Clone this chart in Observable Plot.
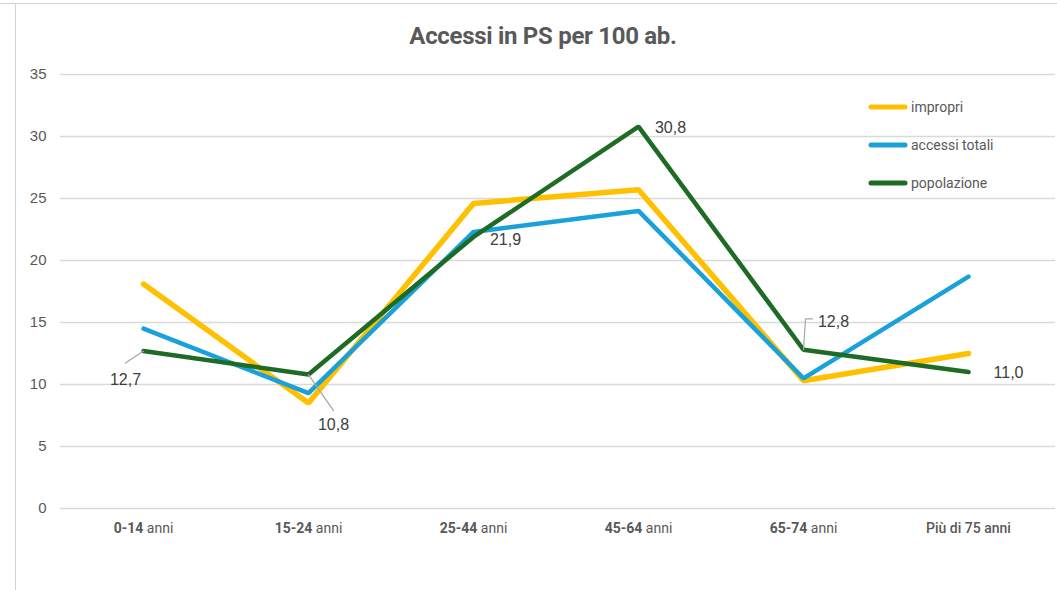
<!DOCTYPE html>
<html><head><meta charset="utf-8">
<script src="https://cdn.jsdelivr.net/npm/d3@7"></script>
<script src="https://cdn.jsdelivr.net/npm/@observablehq/plot@0.6"></script>
<style>
body{margin:0;background:#fff;}
#wrap{position:relative;width:1057px;height:590px;overflow:hidden;font-family:"Liberation Sans",Arial,sans-serif;}
#frameTop{position:absolute;left:0;top:3px;width:1057px;height:0;border-top:1px solid #d4d4d4;}
#frameLeft{position:absolute;left:15px;top:3px;width:0;height:590px;border-left:1px solid #d4d4d4;}
#title{position:absolute;left:0;width:1086px;top:22px;text-align:center;font-family:"Roboto","Liberation Sans",sans-serif;font-weight:bold;font-size:24px;color:#595959;letter-spacing:-0.3px;}
#legend{position:absolute;left:868px;top:88px;font-family:"Roboto","Liberation Sans",sans-serif;font-size:14px;color:#595959;}
#legend .item{display:flex;align-items:center;height:38px;}
#legend svg{margin-right:3px;}
#chart{position:absolute;left:0;top:0;}
</style>
</head><body>
<div id="wrap">
  <div id="chart"></div>
  <div id="frameTop"></div>
  <div id="frameLeft"></div>
  <div id="title"></div>
  <div id="legend"></div>
</div>
<script>
const titleText = "Accessi in PS per 100 ab.";
const categories = ["0-14 anni","15-24 anni","25-44 anni","45-64 anni","65-74 anni","Più di 75 anni"];
const impropri = [18.1, 8.5, 24.6, 25.7, 10.3, 12.5];
const accessiTotali = [14.5, 9.3, 22.3, 24.0, 10.5, 18.7];
const popolazione = [12.7, 10.8, 21.9, 30.8, 12.8, 11.0];
const seriesNames = ["impropri","accessi totali","popolazione"];
const seriesColors = ["#FFC000","#1AA1D9","#1E6B26"];
const yTicks = [0,5,10,15,20,25,30,35];

document.getElementById("title").textContent = titleText;

const seriesValues = [impropri, accessiTotali, popolazione];
const rows = [];
seriesNames.forEach((s, si) => categories.forEach((c, i) => rows.push({serie: s, cat: c, v: seriesValues[si][i]})));

const fmt = v => v.toFixed(1).replace(".", ",");
const popRows = categories.map((c, i) => ({cat: c, v: popolazione[i]}));

// label placement per point (pixel offsets) for popolazione labels
const labelOffsets = [[-18, 29], [25, 50], [32, 3], [32, 1], [30, -28], [40, 1]];
const labelMarks = popRows.map((d, i) => Plot.text([d], {
  x: "cat", y: "v", text: d => fmt(d.v), dx: labelOffsets[i][0], dy: labelOffsets[i][1],
  fill: "#404040", fontSize: 16, fontFamily: "Liberation Sans, Arial, sans-serif"
}));

function leaderShape(points) {
  return {draw(context) { context.moveTo(0, 0); points.forEach(p => context.lineTo(p[0], p[1])); }};
}
const leaders = [
  [0, [[-18, 12]]],
  [1, [[25, 36]]],
  [4, [[2, -31], [9, -31]]]
];
const leaderMarks = leaders.map(([i, pts]) => Plot.vector([popRows[i]], {
  x: "cat", y: "v", length: 1, rotate: 0, anchor: "start",
  shape: leaderShape(pts), stroke: "#a6a6a6", strokeWidth: 1.2, fill: "none"
}));

const plot = Plot.plot({
  width: 1057, height: 590,
  marginLeft: 60, marginRight: 2, insetRight: 5, marginTop: 74, marginBottom: 82,
  style: {color: "#595959", background: "transparent", fontSize: "15px"},
  x: {type: "point", domain: categories, padding: 0.5, label: null},
  y: {domain: [0, 35], label: null},
  color: {domain: seriesNames, range: seriesColors},
  marks: [
    Plot.ruleY(yTicks, {stroke: "#d9d9d9", strokeWidth: 1.3}),
    Plot.axisY({ticks: yTicks, tickSize: 0, tickPadding: 14, fontSize: 15, label: null, fontFamily: "Liberation Sans, Arial, sans-serif"}),
    Plot.axisX({tickSize: 0, tickPadding: 15, fontSize: 14, label: null, fontFamily: "Roboto, Liberation Sans, sans-serif"}),
    Plot.line(rows.filter(d => d.serie === "impropri"), {x: "cat", y: "v", stroke: seriesColors[0], strokeWidth: 5.5, strokeLinejoin: "miter", strokeLinecap: "round"}),
    Plot.line(rows.filter(d => d.serie === "accessi totali"), {x: "cat", y: "v", stroke: seriesColors[1], strokeWidth: 4.5, strokeLinejoin: "miter", strokeLinecap: "round"}),
    Plot.line(rows.filter(d => d.serie === "popolazione"), {x: "cat", y: "v", stroke: seriesColors[2], strokeWidth: 4.5, strokeLinejoin: "miter", strokeLinecap: "round"}),
    ...leaderMarks,
    ...labelMarks
  ]
});

// mixed-weight x tick labels
plot.querySelectorAll('[aria-label="x-axis tick label"] text').forEach(t => {
  const s = t.textContent;
  const m = s.match(/^(\d+-\d+)( anni)$/);
  if (m) {
    t.textContent = "";
    const a = document.createElementNS("http://www.w3.org/2000/svg", "tspan");
    a.setAttribute("font-weight", "bold"); a.textContent = m[1];
    const b = document.createElementNS("http://www.w3.org/2000/svg", "tspan");
    b.textContent = m[2];
    t.appendChild(a); t.appendChild(b);
  } else {
    t.setAttribute("font-weight", "500");
  }
});
document.getElementById("chart").appendChild(plot);

const legend = document.getElementById("legend");
seriesNames.forEach((s, i) => {
  const item = document.createElement("div");
  item.className = "item";
  item.innerHTML = `<svg width="40" height="8"><line x1="3" y1="4" x2="37" y2="4" stroke="${seriesColors[i]}" stroke-width="5" stroke-linecap="round"/></svg><span>${s}</span>`;
  legend.appendChild(item);
});
</script>
</body></html>
